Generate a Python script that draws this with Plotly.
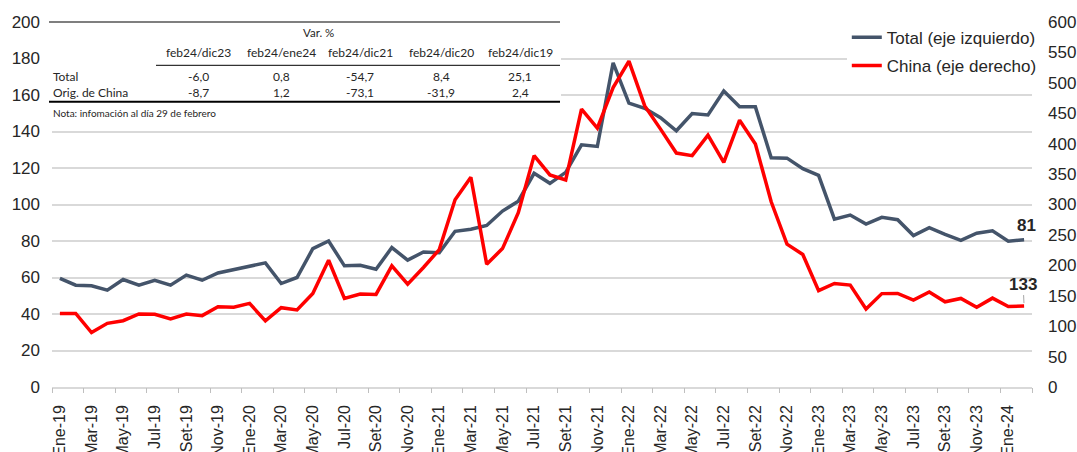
import plotly.graph_objects as go

# ---------------- data ----------------
month_abbr = ["Ene", "Feb", "Mar", "Abr", "May", "Jun", "Jul", "Ago", "Set", "Oct", "Nov", "Dic"]
years = ["19", "20", "21", "22", "23", "24"]
months = [f"{m}-{y}" for y in years for m in month_abbr][:62]  # Ene-19 .. Feb-24

total = [59.5, 55.8, 55.5, 53.1, 58.9, 55.8, 58.5, 55.8, 61.3, 58.5,
         62.5, 64.4, 66.4, 68.0, 56.7, 60.0, 75.8, 80.0, 66.4, 66.7,
         64.5, 76.4, 69.5, 74.0, 73.6, 85.3, 86.4, 88.5, 96.4, 101.8,
         117.1, 111.6, 117.6, 132.7, 131.8, 177.6, 155.5, 152.7, 147.6, 140.4,
         149.8, 149.1, 162.2, 153.5, 153.5, 125.6, 125.4, 119.6, 116.0, 92.0,
         94.2, 89.3, 93.0, 91.7, 83.0, 87.3, 83.6, 80.4, 84.3, 85.6,
         79.9, 80.7]

china = [121.0, 121.0, 89.5, 104.7, 109.0, 120.0, 119.5, 111.8, 120.0, 117.3,
         132.0, 131.0, 137.5, 108.6, 130.4, 126.6, 153.8, 208.4, 145.7, 152.8,
         152.2, 199.1, 169.1, 196.4, 225.9, 307.7, 344.8, 201.9, 227.5, 286.4,
         380.3, 348.6, 340.4, 456.6, 425.5, 492.1, 535.7, 462.1, 423.9, 384.6,
         380.3, 414.1, 369.3, 438.6, 399.3, 304.4, 234.8, 217.9, 158.5, 170.2,
         167.5, 128.2, 153.5, 153.8, 142.8, 156.2, 140.1, 145.6, 131.1, 146.1,
         132.2, 133.0]

tick_labels = months[::2]

# table inset data
table_cols = ["feb24/dic23", "feb24/ene24", "feb24/dic21", "feb24/dic20", "feb24/dic19"]
table_rows = ["Total", "Orig. de China"]
total_var = ["-6,0", "0,8", "-54,7", "8,4", "25,1"]
china_var = ["-8,7", "1,2", "-73,1", "-31,9", "2,4"]
table_head = "Var. %"
table_note = "Nota: infomación al día 29 de febrero"

GRAY = "#44546A"
RED = "#FF0000"
TXT = "#262626"
FONT = "Liberation Sans, Arial, sans-serif"
TFONT = "Lato, Open Sans, sans-serif"

W, H = 1077, 452
L, R, T, B = 52, 45, 22, 65
pw, ph = W - L - R, H - T - B

fig = go.Figure()
fig.add_trace(go.Scatter(x=months, y=total, mode="lines", name="Total (eje izquierdo)",
                         line=dict(color=GRAY, width=3.5), legendgroup="a", yaxis="y"))
fig.add_trace(go.Scatter(x=months, y=china, mode="lines", name="China (eje derecho)",
                         line=dict(color=RED, width=3.5), legendgroup="b", yaxis="y2"))
# helper trace so the tick-mark axis is drawn
fig.add_trace(go.Scatter(x=[0], y=[0], xaxis="x2", yaxis="y", mode="markers",
                         marker=dict(opacity=0), showlegend=False, hoverinfo="skip"))

fig.update_layout(
    width=W, height=H,
    margin=dict(l=L, r=R, t=T, b=B),
    paper_bgcolor="white", plot_bgcolor="white",
    font=dict(family=FONT, size=17, color=TXT),
    showlegend=True,
    legend=dict(x=1.01, xanchor="right", y=1.006, yanchor="top",
                bgcolor="white", font=dict(size=17, color=TXT),
                traceorder="grouped", tracegroupgap=3, itemwidth=30,
                borderwidth=0),
    xaxis=dict(type="category", range=[-0.5, len(months) - 0.5],
               tickvals=tick_labels, ticktext=tick_labels, tickangle=-90,
               tickfont=dict(size=16, color=TXT), ticks="outside", ticklen=4,
               tickcolor="rgba(0,0,0,0)", showgrid=False,
               showline=True, linecolor="#d9d9d9", linewidth=1.5,
               zeroline=False, ticklabelstandoff=6, automargin=False),
    xaxis2=dict(overlaying="x", range=[-0.5, len(months) - 0.5],
                tickvals=[i - 0.5 for i in range(0, len(months) + 1, 2)],
                showticklabels=False, ticks="outside", ticklen=5,
                tickcolor="#bfbfbf", tickwidth=1, showgrid=False,
                showline=False, zeroline=False, side="bottom", anchor="y",
                automargin=False),
    yaxis=dict(range=[0, 200], dtick=20, showgrid=True, gridcolor="#d9d9d9",
               gridwidth=1.5, zeroline=False, showline=False, ticks="",
               tickfont=dict(size=17, color=TXT), ticklabelstandoff=11,
               automargin=False),
    yaxis2=dict(range=[0, 600], dtick=50, overlaying="y", side="right",
                showgrid=False, zeroline=False, showline=False, ticks="",
                tickfont=dict(size=17, color=TXT), ticklabelstandoff=15,
                automargin=False),
)


def px_x(x):
    return (x - L) / pw


def px_y(y):
    return 1 - (y - T) / ph


shapes = []
# white table background
shapes.append(dict(type="rect", xref="paper", yref="paper",
                   x0=px_x(49), x1=px_x(561), y0=px_y(120), y1=px_y(22),
                   fillcolor="white", line=dict(width=0), layer="above"))
# top rule
shapes.append(dict(type="line", xref="paper", yref="paper",
                   x0=px_x(49), x1=px_x(560), y0=px_y(22), y1=px_y(22),
                   line=dict(color="black", width=1.2), layer="above"))
# header underline
shapes.append(dict(type="line", xref="paper", yref="paper",
                   x0=px_x(156), x1=px_x(560), y0=px_y(65.3), y1=px_y(65.3),
                   line=dict(color="black", width=1), layer="above"))
# thick bottom rule
shapes.append(dict(type="line", xref="paper", yref="paper",
                   x0=px_x(49), x1=px_x(560), y0=px_y(101.7), y1=px_y(101.7),
                   line=dict(color="black", width=2), layer="above"))
fig.update_layout(shapes=shapes)

ann = []
col_x = [198, 281, 360, 441, 520]
ann.append(dict(text=table_head, x=px_x(318), y=px_y(32), xref="paper", yref="paper",
                showarrow=False, xanchor="center", yanchor="middle",
                font=dict(family=TFONT, size=11.5, color=TXT)))
for cx, c, v1, v2 in zip(col_x, table_cols, total_var, china_var):
    ann.append(dict(text=c, x=px_x(cx), y=px_y(53), xref="paper", yref="paper",
                    showarrow=False, xanchor="center", yanchor="middle",
                    font=dict(family=TFONT, size=12, color=TXT)))
    ann.append(dict(text=v1, x=px_x(cx), y=px_y(76), xref="paper", yref="paper",
                    showarrow=False, xanchor="center", yanchor="middle",
                    font=dict(family=TFONT, size=12, color=TXT)))
    ann.append(dict(text=v2, x=px_x(cx), y=px_y(92.7), xref="paper", yref="paper",
                    showarrow=False, xanchor="center", yanchor="middle",
                    font=dict(family=TFONT, size=12, color=TXT)))
for ry, rname in zip([76, 92.7], table_rows):
    ann.append(dict(text=rname, x=px_x(51), y=px_y(ry), xref="paper", yref="paper",
                    showarrow=False, xanchor="left", yanchor="middle",
                    font=dict(family=TFONT, size=12, color=TXT)))
ann.append(dict(text=table_note, x=px_x(51), y=px_y(112.5), xref="paper", yref="paper",
                showarrow=False, xanchor="left", yanchor="middle",
                font=dict(family=TFONT, size=10, color=TXT)))

# end-point value labels
ann.append(dict(text=f"<b>{total[-1]:.0f}</b>", x=months[-1], y=total[-1],
                xref="x", yref="y", showarrow=False, yshift=14, xshift=2,
                font=dict(size=17, color=TXT)))
ann.append(dict(text=f"<b>{china[-1]:.0f}</b>", x=months[-1], y=china[-1],
                xref="x", yref="y2", showarrow=True, arrowhead=0, arrowwidth=1,
                arrowcolor="#a6a6a6", ax=-1, ay=-22, standoff=3,
                font=dict(size=17, color=TXT)))
fig.update_layout(annotations=ann)

fig.write_html(
    "out.html",
    config={"displayModeBar": False},
    post_script="document.body.style.margin='0';document.body.style.overflow='hidden';",
)
